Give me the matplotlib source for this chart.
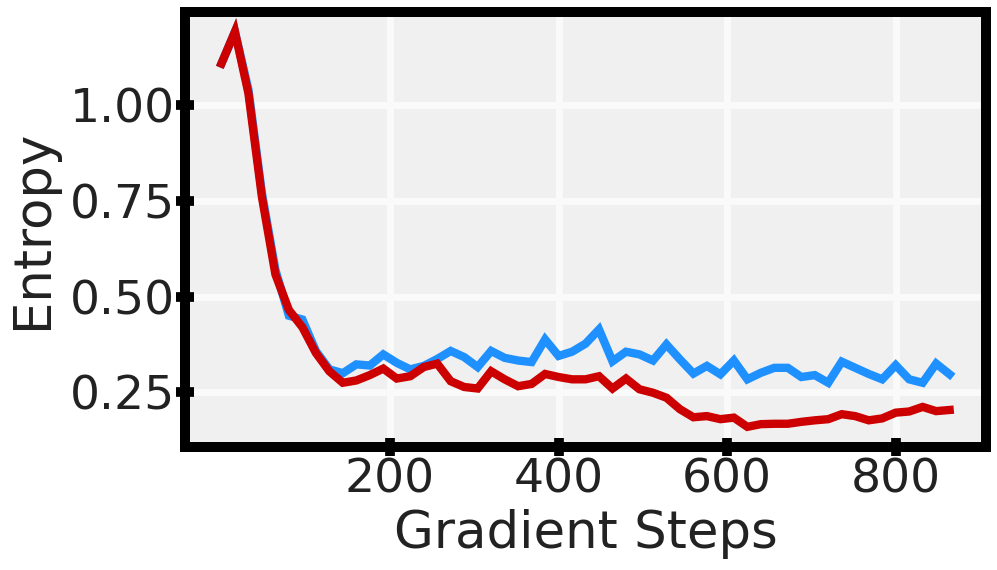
import matplotlib
matplotlib.use("Agg")
import matplotlib.pyplot as plt
import numpy as np

steps = [16 * k for k in range(55)]

entropy_blue = [1.108, 1.191, 1.04, 0.77, 0.57, 0.45, 0.44, 0.358, 0.31, 0.30,
                0.323, 0.32, 0.349, 0.327, 0.31, 0.319, 0.337, 0.358, 0.342, 0.316,
                0.358, 0.34, 0.333, 0.329, 0.388, 0.345, 0.356, 0.377, 0.414, 0.331,
                0.356, 0.349, 0.333, 0.375, 0.336, 0.299, 0.319, 0.297, 0.333, 0.284,
                0.301, 0.314, 0.314, 0.29, 0.295, 0.275, 0.33, 0.314, 0.298, 0.284,
                0.321, 0.284, 0.275, 0.325, 0.297]

entropy_red = [1.108, 1.191, 1.03, 0.76, 0.558, 0.465, 0.42, 0.353, 0.305, 0.275,
               0.281, 0.295, 0.312, 0.286, 0.292, 0.316, 0.325, 0.279, 0.264, 0.26,
               0.305, 0.284, 0.266, 0.272, 0.298, 0.29, 0.284, 0.284, 0.292, 0.26,
               0.286, 0.258, 0.249, 0.236, 0.206, 0.185, 0.188, 0.18, 0.184, 0.16,
               0.167, 0.168, 0.168, 0.173, 0.177, 0.18, 0.193, 0.188, 0.177, 0.182,
               0.197, 0.2, 0.212, 0.201, 0.204]

xticks = [200, 400, 600, 800]
yticks = [0.25, 0.50, 0.75, 1.00]
ytick_labels = ["0.25", "0.50", "0.75", "1.00"]

text_color = "#222222"

fig = plt.figure(figsize=(9.97, 5.70), dpi=100)
ax = fig.add_axes([0.1856, 0.2165, 0.8034, 0.7625])
ax.set_facecolor("#f0f0f0")

ax.plot(steps, entropy_blue, color="#1e90ff", lw=6, solid_joinstyle="miter", zorder=3)
ax.plot(steps, entropy_red, color="#cc0000", lw=6, solid_joinstyle="miter", zorder=4)

ax.set_xticks(xticks)
ax.set_yticks(yticks)
ax.set_yticklabels(ytick_labels)
ax.grid(True, color="#fafafa", lw=5, zorder=0)
ax.set_axisbelow(True)

for sp in ax.spines.values():
    sp.set_linewidth(7.2)
    sp.set_color("black")

ax.tick_params(axis="both", direction="inout", length=13, width=7, color="black",
               labelsize=34, labelcolor=text_color, pad=1)

ax.set_xlabel("Gradient Steps", fontsize=37, color=text_color, labelpad=5)
ax.set_ylabel("Entropy", fontsize=37, color=text_color, labelpad=8)

fig.savefig("out.png", dpi=100)
